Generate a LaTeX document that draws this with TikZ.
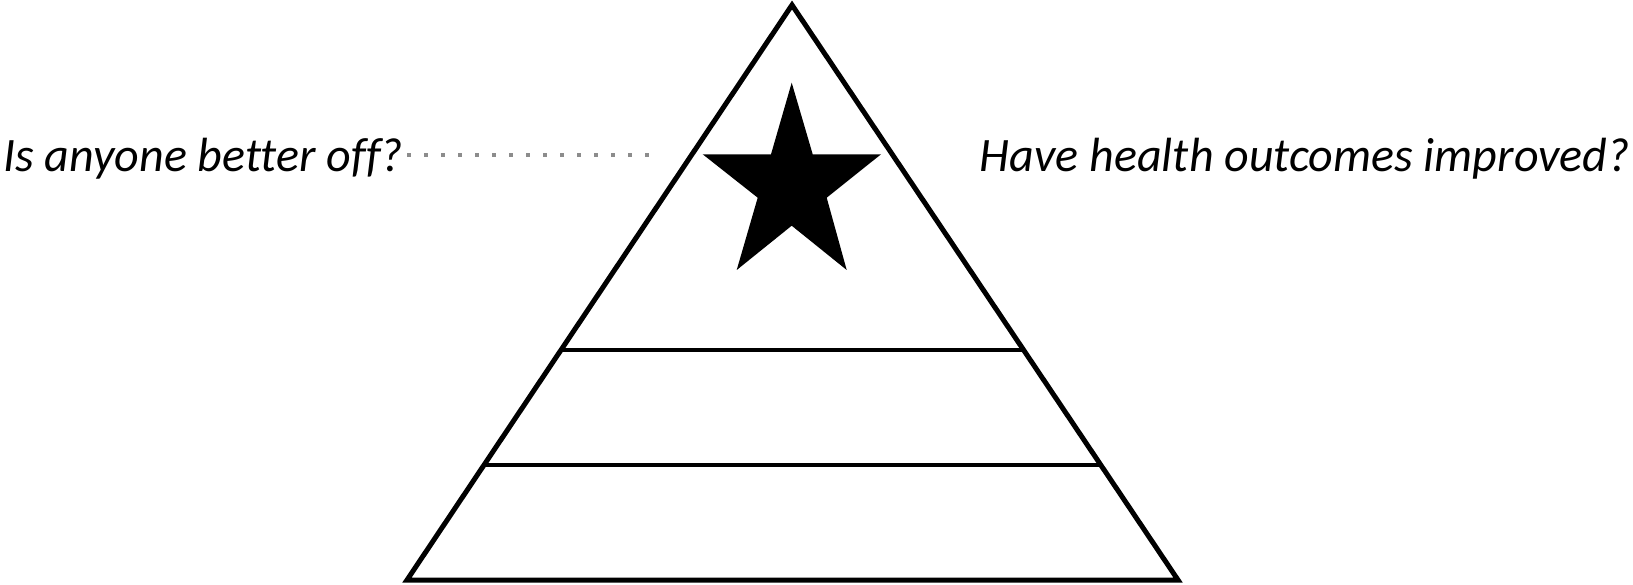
\documentclass[tikz,border=0pt]{standalone}
\usepackage{fontspec}
\setmainfont[Ligatures=NoCommon]{Carlito}
\usetikzlibrary{positioning,calc}

\begin{document}
\begin{tikzpicture}[x=1pt, y=-1pt,
    outline/.style={draw, line width=5pt, line join=miter},
    tier/.style={draw, line width=4.5pt},
    question/.style={font=\fontsize{48}{58}\selectfont\itshape, inner sep=0pt},
    leader/.style={draw=gray!90, line width=3.5pt, dash pattern=on 3.5pt off 13.5pt}
]
\useasboundingbox (0,0) rectangle (1633,585);

% Pyramid
\coordinate (apex) at (792,5);
\coordinate (baseL) at (407,580);
\coordinate (baseR) at (1178,580);
\draw[outline] (apex) -- (baseR) -- (baseL) -- cycle;

% Tiers
\foreach \i/\f in {1/0.6, 2/0.8} {
    \coordinate (tier\i L) at ($(apex)!\f!(baseL)$);
    \coordinate (tier\i R) at ($(apex)!\f!(baseR)$);
    \draw[tier] (tier\i L) -- (tier\i R);
}

% Star
\fill (791.7,82.7) -- (812.7,154.3) -- (881,154.3) -- (826.7,197.7) -- (846.7,270)
    -- (791.7,225.7) -- (736.7,270) -- (757.7,197.7) -- (702.7,154.3) -- (771,154.3) -- cycle;

% Questions
\node[question, anchor=base west] (better) at (3,172) {Is anyone better off?};
\node[question, anchor=base east] (health) at (1630,172) {Have health outcomes improved?};

% Leader
\coordinate (leaderend) at (662,155);
\draw[leader] (better.east |- leaderend) ++(4,0) -- (leaderend);

\end{tikzpicture}
\end{document}
